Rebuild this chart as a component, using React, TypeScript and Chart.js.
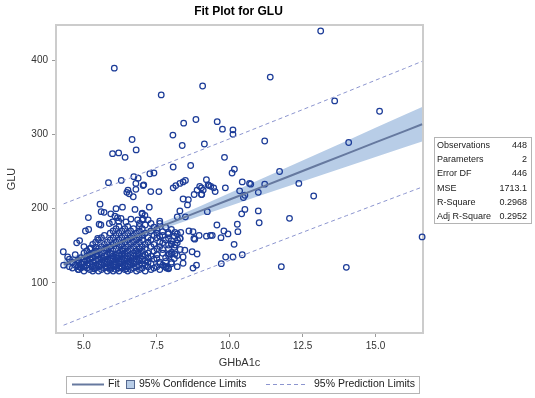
import { useEffect, useRef } from 'react';
import { Chart, registerables } from 'chart.js';

Chart.register(...registerables);

const chartTitle = 'Fit Plot for GLU';
const xTitle = 'GHbA1c';
const yTitle = 'GLU';
const xTicks = [5, 7.5, 10, 12.5, 15];
const yTicks = [100, 200, 300, 400];

// regression curves
const bandX = [4.3, 5, 6, 6.6, 7, 8, 9, 10, 11, 12, 13, 14, 15, 16, 16.6];
const fitY = [124.8, 135.6, 150.9, 160.1, 166.3, 181.6, 197.0, 212.3, 227.7, 243.0, 258.4, 273.7, 289.1, 304.4, 313.6];
const clLower = [118.3, 130.3, 146.8, 156.3, 162.3, 176.6, 190.3, 203.6, 216.9, 230.0, 243.2, 256.3, 269.4, 282.5, 290.4];
const clUpper = [131.3, 140.9, 155.0, 164.0, 170.2, 186.6, 203.7, 221.0, 238.5, 256.0, 273.5, 291.1, 308.7, 326.3, 336.8];
const plLower = [43.2, 54.1, 69.5, 78.7, 84.8, 100.1, 115.3, 130.5, 145.6, 160.6, 175.7, 190.5, 205.4, 220.2, 229.0];
const plUpper = [206.4, 217.1, 232.3, 241.5, 247.7, 263.1, 278.6, 294.1, 309.8, 325.4, 341.1, 356.9, 372.8, 388.6, 398.2];

const statLabels = ['Observations', 'Parameters', 'Error DF', 'MSE', 'R-Square', 'Adj R-Square'];
const statValues = ['448', '2', '446', '1713.1', '0.2968', '0.2952'];

// dense cluster: [GLU, GHbA1c values]
const denseRows: [number, number[]][] = [
  [116, [5.0, 5.3, 5.5, 5.8, 6.0, 6.2, 6.5, 6.8, 7.1]],
  [118, [4.8, 5.2, 5.6, 5.9, 6.1, 6.4, 6.6, 6.9, 7.3, 7.6]],
  [120, [4.6, 4.9, 5.1, 5.4, 5.7, 5.9, 6.2, 6.3, 6.7, 7.0, 7.4, 7.9]],
  [122, [4.5, 4.8, 5.0, 5.3, 5.5, 5.8, 6.0, 6.3, 6.5, 6.8, 7.2, 7.5]],
  [124, [4.3, 4.7, 5.1, 5.4, 5.6, 5.9, 6.1, 6.4, 6.6, 6.9, 7.1, 7.7]],
  [126, [4.9, 5.2, 5.5, 5.7, 6.0, 6.2, 6.5, 6.7, 7.0, 7.3]],
  [128, [4.6, 5.0, 5.3, 5.6, 5.8, 6.1, 6.3, 6.6, 6.8, 7.2, 7.6, 8.0]],
  [130, [4.8, 5.1, 5.4, 5.7, 5.9, 6.2, 6.4, 6.7, 6.9, 7.1]],
  [132, [4.5, 5.0, 5.2, 5.5, 5.8, 6.0, 6.3, 6.5, 6.8, 7.0, 7.4]],
  [134, [4.9, 5.3, 5.6, 5.9, 6.1, 6.4, 6.6, 6.9, 7.2, 7.8]],
  [136, [5.1, 5.4, 5.7, 6.0, 6.2, 6.5, 6.7, 7.0, 7.3]],
  [138, [4.7, 5.2, 5.5, 5.8, 6.1, 6.3, 6.6, 6.8, 7.1, 7.5]],
  [140, [5.0, 5.3, 5.6, 5.9, 6.2, 6.4, 6.7, 6.9, 7.2, 7.7]],
  [143, [5.1, 5.4, 5.7, 6.0, 6.3, 6.5, 6.8, 7.0, 7.4]],
  [146, [5.2, 5.5, 5.8, 6.1, 6.4, 6.6, 6.9, 7.1, 7.5, 7.9]],
  [149, [5.0, 5.6, 5.9, 6.2, 6.5, 6.7, 7.0, 7.3, 7.6]],
  [152, [5.3, 5.7, 6.0, 6.3, 6.6, 6.8, 7.1, 7.4, 8.0]],
  [155, [5.4, 5.8, 6.1, 6.4, 6.7, 6.9, 7.2, 7.6]],
  [158, [5.5, 5.9, 6.2, 6.5, 6.8, 7.0, 7.3, 7.8]],
  [161, [5.6, 6.0, 6.3, 6.6, 6.9, 7.2, 7.5]],
  [164, [5.7, 6.1, 6.4, 6.7, 7.0, 7.4, 7.7]],
  [167, [5.9, 6.2, 6.5, 6.8, 7.1, 7.5]],
  [170, [6.0, 6.3, 6.6, 6.9, 7.3]],
  [173, [6.1, 6.4, 6.7, 7.0]],
  [176, [6.2, 6.5, 6.9]],
];

// remaining observations: [GHbA1c, GLU]
const scatterPoints: [number, number][] = [
  [6.04, 389], [9.07, 365], [7.65, 353], [8.84, 320], [8.42, 315], [9.57, 317], [9.75, 307], [10.11, 306],
  [10.11, 300], [8.05, 299], [6.65, 293], [8.37, 285], [9.13, 287], [6.79, 279], [5.98, 274], [6.19, 275],
  [13.12, 439], [11.39, 377], [13.6, 345], [15.14, 331], [14.08, 289], [11.2, 291], [9.82, 269], [10.16, 253],
  [10.08, 248], [11.71, 250], [9.2, 239], [8.97, 230], [9.09, 225], [9.04, 219], [9.29, 231], [9.45, 228],
  [9.5, 223], [9.85, 228], [10.43, 236], [10.68, 234], [10.72, 233], [11.2, 233], [12.37, 234], [10.34, 224],
  [10.98, 222], [10.52, 218], [10.47, 215], [12.88, 217], [9.23, 196], [10.52, 199], [10.41, 193], [10.98, 197],
  [12.05, 187], [10.26, 179], [11.01, 181], [16.6, 162], [10.43, 138], [11.77, 122], [14.0, 121], [10.15, 152],
  [8.66, 258], [8.06, 256], [7.26, 247], [7.4, 248], [7.05, 232], [7.29, 223], [7.57, 223], [8.06, 228],
  [8.15, 231], [8.29, 234], [8.4, 236], [8.48, 238], [8.78, 219], [8.88, 225], [9.03, 228], [9.26, 232],
  [9.35, 230], [9.03, 219], [8.4, 213], [8.58, 212], [8.55, 205], [7.24, 202], [8.29, 197], [8.2, 189],
  [8.48, 189], [7.6, 183], [9.56, 178], [7.0, 194], [7.09, 191], [7.89, 168], [8.12, 168], [8.32, 168],
  [8.6, 170], [8.74, 169], [8.95, 164], [9.2, 163], [9.34, 164], [9.4, 164], [9.7, 161], [9.8, 170],
  [9.94, 166], [10.28, 169], [8.77, 160], [8.8, 159], [8.29, 160], [8.21, 158], [8.0, 152.5], [8.13, 151],
  [8.46, 144], [8.71, 142], [8.88, 139], [8.4, 135], [7.92, 139], [8.0, 139], [8.12, 139], [9.86, 135],
  [10.11, 135], [9.71, 126], [8.74, 120], [8.86, 124], [8.4, 126.5], [7.81, 122], [7.83, 120],
  [6.41, 269], [5.84, 235], [6.28, 238], [6.71, 243], [6.86, 241], [6.78, 234], [6.78, 226], [6.51, 225],
  [6.47, 222], [6.55, 220], [6.69, 216], [7.03, 231], [5.55, 206], [5.59, 196], [5.69, 195], [5.15, 188],
  [6.1, 200], [6.32, 202], [6.75, 199], [5.92, 193], [6.06, 190], [6.15, 188], [6.27, 187], [5.98, 182],
  [6.19, 183], [6.44, 182], [6.61, 186], [6.84, 185], [6.99, 193], [7.03, 186], [5.52, 179],
  [4.29, 142], [4.44, 135], [4.82, 131], [4.82, 127], [4.75, 154], [4.85, 157], [5.05, 170], [5.16, 172],
  [5.24, 147], [5.41, 148], [5.47, 160], [5.58, 178], [5.87, 180], [4.86, 122], [4.82, 118],
  [7.0, 185], [7.2, 185], [6.9, 180], [7.3, 180], [7.6, 180], [7.1, 178], [7.4, 175], [7.8, 175],
  [7.5, 172], [8.0, 172], [7.7, 169], [7.9, 166], [8.2, 166], [7.6, 163], [8.1, 163], [7.9, 160],
  [8.3, 160], [8.0, 157], [7.7, 154], [8.2, 154], [7.9, 151], [8.1, 148], [7.7, 145], [8.3, 145],
  [8.0, 141], [7.9, 137], [8.2, 137], [7.5, 133], [8.1, 133], [7.8, 129], [7.6, 126], [8.0, 126],
  [7.8, 122], [8.2, 122], [7.9, 119],
  [5.35, 119], [5.75, 121], [6.05, 125], [6.45, 119], [5.15, 127], [5.65, 131], [6.15, 133], [6.55, 129],
  [5.45, 137], [5.95, 139], [6.35, 143], [6.85, 141], [5.75, 147], [6.25, 151],
];

const FONT = '"Liberation Sans", Arial, Helvetica, sans-serif';
const markerColor = '#1c3c98';
const fitColor = '#66799f';
const bandColor = '#b8cde7';
const predColor = '#8c95cf';
const frameColor = '#cccccc';
const textColor = '#222';

const framePlugin = {
  id: 'frame',
  beforeDatasetsDraw(chart: any) {
    const { ctx, chartArea: a } = chart;
    ctx.save();
    ctx.strokeStyle = frameColor;
    ctx.lineWidth = 2;
    ctx.strokeRect(a.left, a.top, a.right - a.left, a.bottom - a.top);
    ctx.restore();
  },
};

const overlayPlugin = {
  id: 'overlay',
  afterDraw(chart: any) {
    const { ctx } = chart;
    ctx.save();
    // title
    ctx.fillStyle = '#000';
    ctx.font = `bold 12px ${FONT}`;
    ctx.textAlign = 'center';
    ctx.textBaseline = 'middle';
    ctx.fillText(chartTitle, 238.5, 12);

    // statistics table
    ctx.strokeStyle = '#b4b4b4';
    ctx.lineWidth = 1;
    ctx.strokeRect(434.5, 137.5, 97, 86);
    ctx.font = `9px ${FONT}`;
    ctx.fillStyle = textColor;
    statLabels.forEach((label, i) => {
      const y = 145.5 + i * 14.2;
      ctx.textAlign = 'left';
      ctx.fillText(label, 437, y);
      ctx.textAlign = 'right';
      ctx.fillText(statValues[i], 527, y);
    });

    // legend
    const ly = 384.5;
    ctx.font = `10.5px ${FONT}`;
    ctx.strokeStyle = '#b4b4b4';
    ctx.lineWidth = 1;
    ctx.strokeRect(66.5, 376.5, 353, 17);
    ctx.strokeStyle = fitColor;
    ctx.lineWidth = 2;
    ctx.beginPath();
    ctx.moveTo(72, ly);
    ctx.lineTo(104, ly);
    ctx.stroke();
    ctx.fillStyle = textColor;
    ctx.textAlign = 'left';
    ctx.fillText('Fit', 108, ly);
    ctx.fillStyle = bandColor;
    ctx.fillRect(126.5, 380.5, 8, 8);
    ctx.strokeStyle = '#55688f';
    ctx.lineWidth = 1;
    ctx.strokeRect(126.5, 380.5, 8, 8);
    ctx.fillStyle = textColor;
    ctx.fillText('95% Confidence Limits', 139, ly);
    ctx.strokeStyle = predColor;
    ctx.setLineDash([4, 3]);
    ctx.beginPath();
    ctx.moveTo(266, ly);
    ctx.lineTo(305, ly);
    ctx.stroke();
    ctx.setLineDash([]);
    ctx.fillText('95% Prediction Limits', 314, ly);
    ctx.restore();
  },
};

export default function App() {
  const canvasRef = useRef<HTMLCanvasElement | null>(null);

  useEffect(() => {
    const canvas = canvasRef.current;
    if (!canvas) return;
    const pts = [
      ...denseRows.flatMap(([g, xs]) => xs.map((x) => ({ x, y: g }))),
      ...scatterPoints.map(([x, y]) => ({ x, y })),
    ];
    const curve = (ys: number[]) => bandX.map((x, i) => ({ x, y: ys[i] }));

    const chart = new Chart(canvas, {
      type: 'scatter',
      data: {
        datasets: [
          {
            type: 'line', label: 'CL lower', data: curve(clLower), borderWidth: 1,
            borderColor: 'rgba(0,0,0,0)', pointRadius: 0, fill: false, order: 5,
          },
          {
            type: 'line', label: 'CL upper', data: curve(clUpper), borderWidth: 1,
            borderColor: 'rgba(0,0,0,0)', backgroundColor: bandColor, pointRadius: 0, fill: '-1', order: 5,
          },
          {
            type: 'scatter', label: 'GLU', data: pts, pointRadius: 2.8, pointBorderWidth: 1.25,
            borderColor: markerColor, backgroundColor: 'rgba(0,0,0,0)', order: 3, clip: false,
          } as any,
          {
            type: 'line', label: 'Fit', data: curve(fitY), borderColor: fitColor, borderWidth: 2,
            pointRadius: 0, fill: false, order: 1,
          },
          {
            type: 'line', label: 'PL lower', data: curve(plLower), borderColor: predColor, borderWidth: 1,
            borderDash: [4, 3], pointRadius: 0, fill: false, order: 2,
          },
          {
            type: 'line', label: 'PL upper', data: curve(plUpper), borderColor: predColor, borderWidth: 1,
            borderDash: [4, 3], pointRadius: 0, fill: false, order: 2,
          },
        ] as any,
      },
      options: {
        animation: false,
        responsive: false,
        devicePixelRatio: 1,
        layout: { padding: { left: 0, right: 112, top: 25, bottom: 28 } },
        plugins: {
          legend: { display: false },
          title: { display: false },
          tooltip: { enabled: false },
        },
        events: [],
        scales: {
          x: {
            type: 'linear',
            min: 4.04,
            max: 16.63,
            afterBuildTicks: (s: any) => { s.ticks = xTicks.map((v) => ({ value: v })); },
            afterFit: (s: any) => { s.height = 37; },
            ticks: {
              callback: (v: any) => Number(v).toFixed(1),
              font: { family: FONT, size: 10 },
              color: '#333',
              padding: 3,
              maxRotation: 0,
              autoSkip: false,
            },
            grid: { drawOnChartArea: false, drawTicks: true, tickLength: 4, color: '#9a9a9a' },
            border: { display: false },
            title: {
              display: true, text: xTitle, font: { family: FONT, size: 11 }, color: '#333',
              padding: { top: 0, bottom: 0 },
            },
          },
          y: {
            type: 'linear',
            min: 32.7,
            max: 447.1,
            afterBuildTicks: (s: any) => { s.ticks = yTicks.map((v) => ({ value: v })); },
            afterFit: (s: any) => { s.width = 56; },
            ticks: {
              callback: (v: any) => String(v),
              font: { family: FONT, size: 10 },
              color: '#333',
              padding: 4,
              autoSkip: false,
            },
            grid: { drawOnChartArea: false, drawTicks: true, tickLength: 4, color: '#9a9a9a' },
            border: { display: false },
            title: {
              display: true, text: yTitle, font: { family: FONT, size: 11 }, color: '#333',
              padding: { top: 5, bottom: 0 },
            },
          },
        },
      } as any,
      plugins: [framePlugin, overlayPlugin],
    });
    return () => chart.destroy();
  }, []);

  return (
    <div style={{ position: 'absolute', left: 0, top: 0, width: 535, height: 398, background: '#fff' }}>
      <canvas ref={canvasRef} width={535} height={398} style={{ width: 535, height: 398, display: 'block' }} />
    </div>
  );
}
